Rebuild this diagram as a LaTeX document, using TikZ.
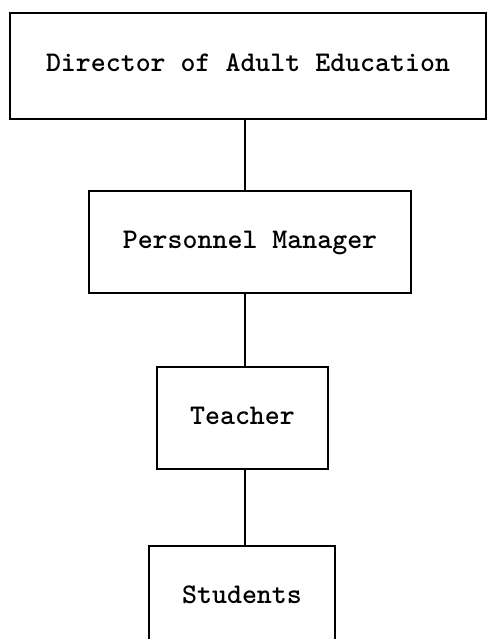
\documentclass[tikz,border=0pt]{standalone}
\begin{document}
\begin{tikzpicture}[x=1pt,y=-1pt,
  box/.style={draw=black, line width=1.5pt, rectangle, inner sep=0pt,
    font=\ttfamily\bfseries\fontsize{28.5}{32}\selectfont,
    text height=17pt, text depth=5pt},
  conn/.style={draw=black, line width=1.6pt}]
\useasboundingbox (0,0) rectangle (488,639);
\node[box, minimum width=476pt, minimum height=106pt] (dir) at (248,66) {Director of Adult Education};
\node[box, minimum width=322pt, minimum height=102pt] (pm) at (250,242) {Personnel Manager};
\node[box, minimum width=171pt, minimum height=102pt] (t) at (242.5,418) {Teacher};
\node[box, minimum width=186pt, minimum height=102pt] (s) at (242,597) {Students};
\coordinate (cx) at (245,0);
\draw[conn] (cx |- dir.south) -- (cx |- pm.north);
\draw[conn] (cx |- pm.south) -- (cx |- t.north);
\draw[conn] (cx |- t.south) -- (cx |- s.north);
\end{tikzpicture}
\end{document}
